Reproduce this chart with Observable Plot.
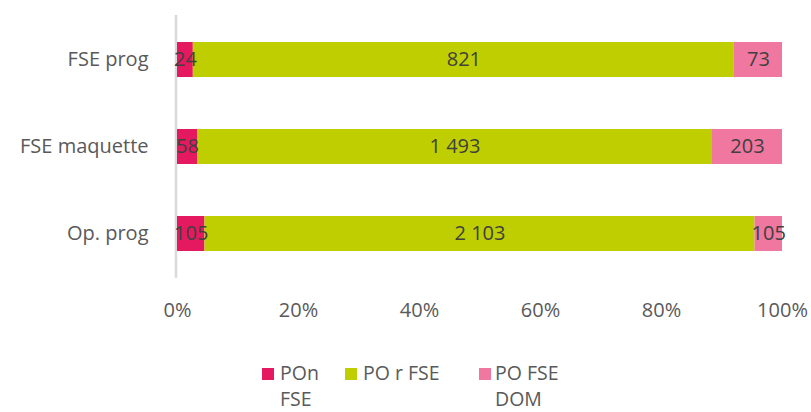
<!DOCTYPE html>
<html>
<head>
<meta charset="utf-8">
<script src="https://cdn.jsdelivr.net/npm/d3@7"></script>
<script src="https://cdn.jsdelivr.net/npm/@observablehq/plot@0.6"></script>
<style>
  body { margin: 0; background: #fff; font-family: "Open Sans", sans-serif; }
  #chart { width: 811px; height: 412px; position: relative; overflow: hidden; }
  .legend { position: absolute; top: 0; left: 0; width: 811px; height: 412px; pointer-events: none; }
  .item { position: absolute; font-size: 19.5px; line-height: 26px; height: 26px; color: #595959; white-space: nowrap; }
  .sw { position: absolute; width: 12px; height: 12px; }
</style>
</head>
<body>
<div id="chart"></div>
<script>
const categories = ["FSE prog", "FSE maquette", "Op. prog"];
const series = ["POn FSE", "PO r FSE", "PO FSE DOM"];
const ponFSE = [24, 58, 105];
const porFSE = [821, 1493, 2103];
const poFSEDOM = [73, 203, 105];
const xTicks = [0, 0.2, 0.4, 0.6, 0.8, 1];
const xTickLabels = ["0%", "20%", "40%", "60%", "80%", "100%"];
const colors = ["#E5195F", "#BFCE00", "#F0779F"];
const legendLines = [["POn", "FSE"], ["PO r FSE"], ["PO FSE", "DOM"]];

const valueArrays = [ponFSE, porFSE, poFSEDOM];
const rows = [];
categories.forEach((c, i) => {
  series.forEach((s, j) => rows.push({cat: c, series: s, value: valueArrays[j][i]}));
});

const fr = d3.formatLocale({decimal: ",", thousands: "\u00a0", grouping: [3], currency: ["", " €"]});
const fmt = fr.format(",d");

const plot = Plot.plot({
  width: 811,
  height: 345,
  marginLeft: 177,
  marginRight: 29,
  marginTop: 15,
  marginBottom: 67,
  style: {fontFamily: "'Open Sans', sans-serif", fontSize: "20px", color: "#595959", background: "#fff"},
  x: {domain: [0, 1], ticks: xTicks, tickFormat: (d) => xTickLabels[xTicks.indexOf(d)], tickSize: 0, tickPadding: 24, label: null},
  y: {domain: categories, paddingInner: 0.6, paddingOuter: 0.3, tickSize: 0, tickPadding: 29, label: null},
  color: {domain: series, range: colors},
  marks: [
    Plot.ruleX([0], {stroke: "#d9d9d9", strokeWidth: 2.5, dx: -1.5}),
    Plot.barX(rows, Plot.stackX({offset: "normalize", x: "value", y: "cat", fill: "series", order: series})),
    Plot.textX(rows, Plot.stackX({offset: "normalize", x: "value", y: "cat", z: "series", order: series, text: (d) => fmt(d.value), fill: "#404040", fontSize: 20}))
  ]
});
document.getElementById("chart").appendChild(plot);

const leg = document.createElement("div");
leg.className = "legend";
const swX = [262, 345, 479];
const txX = [280, 363, 495];
series.forEach((s, j) => {
  const sw = document.createElement("div");
  sw.className = "sw";
  sw.style.left = swX[j] + "px";
  sw.style.top = "368px";
  sw.style.background = colors[j];
  leg.appendChild(sw);
  legendLines[j].forEach((line, k) => {
    const t = document.createElement("div");
    t.className = "item";
    t.style.left = txX[j] + "px";
    t.style.top = (360 + 26 * k) + "px";
    t.textContent = line;
    leg.appendChild(t);
  });
});
document.getElementById("chart").appendChild(leg);
</script>
</body>
</html>
